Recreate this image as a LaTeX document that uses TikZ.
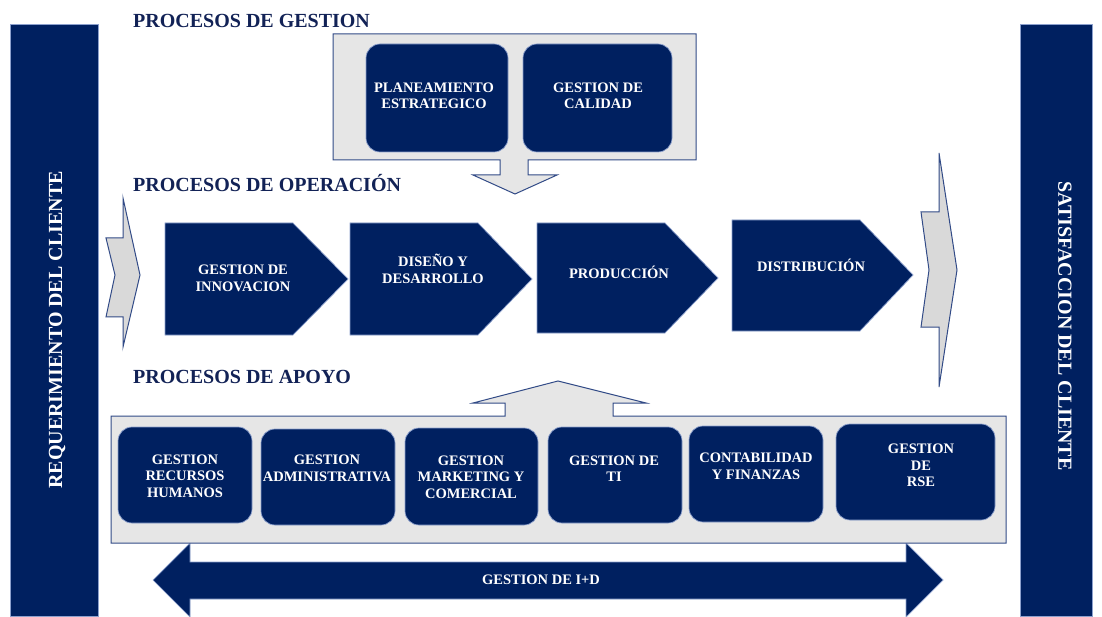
\documentclass[tikz,border=0pt]{standalone}
\usepackage{fontspec}
\setmainfont{Liberation Serif}
\definecolor{navy}{RGB}{0,32,96}
\definecolor{halo}{RGB}{140,160,205}
\definecolor{panel}{RGB}{230,230,230}
\definecolor{arrowgray}{RGB}{217,217,217}
\definecolor{edge}{RGB}{50,75,135}
\definecolor{titlecol}{RGB}{18,34,86}

\tikzset{
  navyfill/.style={fill=navy, draw=halo, line width=0.7pt, line join=miter},
  panelfill/.style={fill=panel, draw=edge, line width=1pt, line join=miter},
  graybolt/.style={fill=arrowgray, draw=edge, line width=1pt, line join=miter},
  pbox/.style={navyfill, rounded corners=14pt, inner sep=0pt},
  wlabel/.style={text=white, font=\bfseries\fontsize{14.5}{16.5}\selectfont, align=center, inner sep=0pt},
  title/.style={text=titlecol, font=\bfseries\fontsize{20}{24}\selectfont, anchor=base west, inner sep=0pt},
  sidetext/.style={text=white, font=\bfseries\fontsize{20}{24}\selectfont, inner sep=0pt},
}

\begin{document}
\begin{tikzpicture}[x=1pt, y=-1pt]
\useasboundingbox (0,0) rectangle (1102,617);

% customer bars at both sides
\fill[white] (0,0) rectangle (1102,617);
\draw[navyfill] (10,24) rectangle (98,616);
\draw[navyfill] (1020,24) rectangle (1092,616);
\node[sidetext, rotate=90] (req) at (57,330) {REQUERIMIENTO DEL CLIENTE};
\node[sidetext, rotate=-90] (sat) at (1065,326) {SATISFACCION DEL CLIENTE};

% section titles
\node[title] (tgest) at (133,28) {PROCESOS DE GESTION};
\node[title] (toper) at (133,192) {PROCESOS DE OPERACIÓN};
\node[title] (tapoyo) at (133,383) {PROCESOS DE APOYO};

% management panel with arrow pointing down
\draw[panelfill] (333,34) -- (696,34) -- (696,160) -- (528,160) -- (528,175)
  -- (557,175) -- (515,194) -- (473,175) -- (500,175) -- (500,160)
  -- (333,160) -- cycle;
\node[pbox, minimum width=142, minimum height=108] (plan) at (437,98) {};
\node[pbox, minimum width=149, minimum height=108] (cal) at (597.5,98) {};
\node[wlabel] (planl) at (434,96) {PLANEAMIENTO\\ESTRATEGICO};
\node[wlabel] (call) at (598,96) {GESTION DE\\CALIDAD};

% operation chain
\draw[graybolt] (106,238) -- (123,238) -- (123,198) -- (140,275) -- (123,347)
  -- (123,317) -- (106,317) -- (115,275) -- cycle;
\draw[navyfill] (165,223) -- (293,223) -- (348,279) -- (293,335) -- (165,335) -- cycle;
\draw[navyfill] (350,223) -- (478,223) -- (532,279) -- (478,335) -- (350,335) -- cycle;
\draw[navyfill] (537,223) -- (665,223) -- (718,278) -- (665,333) -- (537,333) -- cycle;
\draw[navyfill] (732,220) -- (860,220) -- (913,275) -- (860,331) -- (732,331) -- cycle;
\draw[graybolt] (921,212) -- (939,212) -- (939,153) -- (957,270) -- (939,387)
  -- (939,327) -- (921,327) -- (929,270) -- cycle;
\node[wlabel] (innov) at (243,278.5) {GESTION DE\\INNOVACION};
\node[wlabel] (dis) at (433,269) {DISEÑO Y\\DESARROLLO};
\node[wlabel] (prod) at (619,272) {PRODUCCIÓN};
\node[wlabel] (dist) at (811,265) {DISTRIBUCIÓN};

% research and development band
\draw[navyfill] (153,580) -- (190,543) -- (190,562) -- (906,562) -- (906,543)
  -- (943,580) -- (906,617) -- (906,599) -- (190,599) -- (190,617) -- cycle;
\node[wlabel] (idl) at (541,580) {GESTION DE I+D};

% support panel with arrow pointing up
\draw[panelfill] (111,416) -- (505,416) -- (505,403) -- (473,403) -- (558,381)
  -- (646,403) -- (613,403) -- (613,416) -- (1006,416) -- (1006,543)
  -- (111,543) -- cycle;
\node[pbox, minimum width=134, minimum height=96] (rrhh) at (185,475) {};
\node[pbox, minimum width=134, minimum height=96] (adm) at (328,477) {};
\node[pbox, minimum width=133, minimum height=97] (mkt) at (471.5,476.5) {};
\node[pbox, minimum width=134, minimum height=96] (ti) at (615,475) {};
\node[pbox, minimum width=134, minimum height=96] (cont) at (756,474) {};
\node[pbox, minimum width=159, minimum height=96] (rse) at (915.5,472) {};
\node[wlabel] (rrhhl) at (185,476) {GESTION\\RECURSOS\\HUMANOS};
\node[wlabel] (adml) at (327,468.5) {GESTION\\ADMINISTRATIVA};
\node[wlabel] (mktl) at (471,477) {GESTION\\MARKETING Y\\COMERCIAL};
\node[wlabel] (til) at (614,468.5) {GESTION DE\\TI};
\node[wlabel] (contl) at (756,466.5) {CONTABILIDAD\\Y FINANZAS};
\node[wlabel] (rsel) at (921,465.5) {GESTION\\DE\\RSE};
\end{tikzpicture}
\end{document}
